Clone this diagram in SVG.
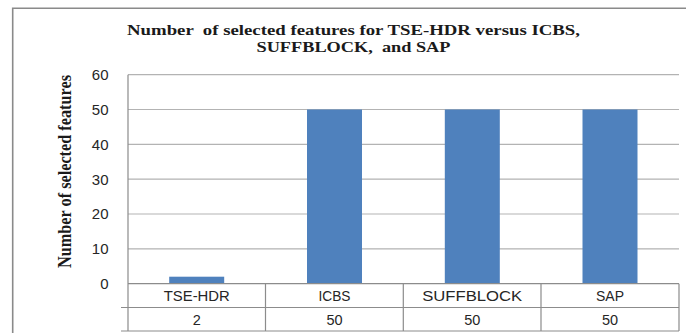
<svg xmlns="http://www.w3.org/2000/svg" width="686" height="333" viewBox="0 0 686 333">
<style>
.title{font-family:"Liberation Serif","Times New Roman",serif;font-weight:bold;font-size:15.5px;fill:#1a1a1a;white-space:pre}
.ytitle{font-family:"Liberation Serif","Times New Roman",serif;font-weight:bold;font-size:18px;fill:#1a1a1a}
.tick{font-family:"Liberation Sans",Arial,sans-serif;font-size:15px;fill:#262626;text-anchor:end}
.cat{font-family:"Liberation Sans",Arial,sans-serif;font-size:14.5px;fill:#262626;text-anchor:middle}
.grid{stroke:#b3b3b3;stroke-width:1.2;fill:none}
.tbl{stroke:#8c8c8c;stroke-width:1.2;fill:none}
.bar{fill:#4f81bd}
</style>
<rect x="0" y="0" width="686" height="333" fill="#ffffff"/>
<path d="M12.7,340 V8.3 H690" stroke="#8a8a8a" stroke-width="1.6" fill="none"/>
<g id="title">
<text class="title" x="353.5" y="35" text-anchor="middle" textLength="453" lengthAdjust="spacingAndGlyphs">Number  of selected features for TSE-HDR versus ICBS,</text>
<text class="title" x="353.5" y="52" text-anchor="middle" textLength="194" lengthAdjust="spacingAndGlyphs">SUFFBLOCK,  and SAP</text>
</g>
<g id="y-axis-title">
<text class="ytitle" transform="translate(71,171.5) rotate(-90)" text-anchor="middle" textLength="193" lengthAdjust="spacingAndGlyphs">Number of selected features</text>
</g>
<g id="gridlines">
<path class="grid" d="M128,74.7H679 M128,109.5H679 M128,144.4H679 M128,179.2H679 M128,214H679 M128,248.9H679"/>
</g>
<g id="y-ticks">
<text class="tick" x="108.5" y="80">60</text>
<text class="tick" x="108.5" y="114.8">50</text>
<text class="tick" x="108.5" y="149.7">40</text>
<text class="tick" x="108.5" y="184.5">30</text>
<text class="tick" x="108.5" y="219.3">20</text>
<text class="tick" x="108.5" y="254.2">10</text>
<text class="tick" x="108.5" y="289">0</text>
</g>
<g id="bars">
<rect id="bar-tse-hdr" class="bar" x="169.2" y="276.7" width="55" height="7"/>
<rect id="bar-icbs" class="bar" x="307" y="109.5" width="55" height="174.2"/>
<rect id="bar-suffblock" class="bar" x="444.8" y="109.5" width="55" height="174.2"/>
<rect id="bar-sap" class="bar" x="582.5" y="109.5" width="55" height="174.2"/>
</g>
<g id="data-table">
<path class="tbl" d="M128,74.7V331 M128,283.7H679 M121,307.5H679 M121,331H679 M265.5,283.7V331 M403.3,283.7V331 M541,283.7V331 M679,283.7V331"/>
<text class="cat" x="196.8" y="300.5" textLength="66" lengthAdjust="spacingAndGlyphs">TSE-HDR</text>
<text class="cat" x="334.5" y="300.5" textLength="32" lengthAdjust="spacingAndGlyphs">ICBS</text>
<text class="cat" x="472.2" y="300.5" textLength="100" lengthAdjust="spacingAndGlyphs">SUFFBLOCK</text>
<text class="cat" x="610" y="300.5" textLength="28" lengthAdjust="spacingAndGlyphs">SAP</text>
<text class="cat" x="196.8" y="324.5">2</text>
<text class="cat" x="334.5" y="324.5">50</text>
<text class="cat" x="472.2" y="324.5">50</text>
<text class="cat" x="610" y="324.5">50</text>
</g>
</svg>
